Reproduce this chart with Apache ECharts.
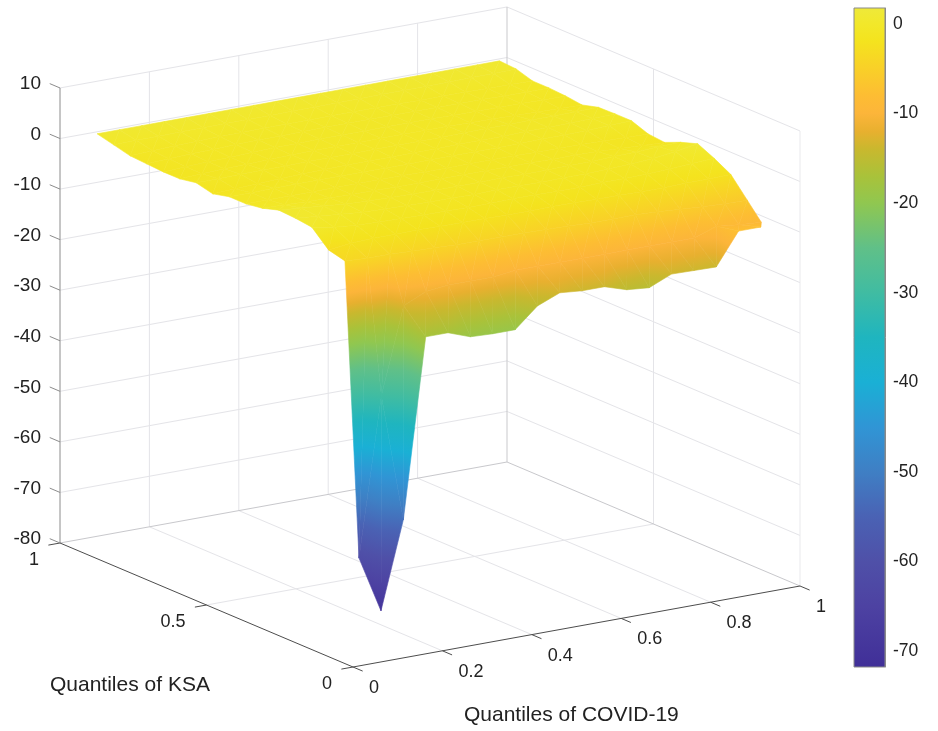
<!DOCTYPE html>
<html><head><meta charset="utf-8">
<style>html,body{margin:0;padding:0;background:#fff}#c{width:938px;height:731px}</style>
<script src="https://cdn.jsdelivr.net/npm/echarts@6/dist/echarts.min.js"></script>
</head><body><div id="c"></div>
<script>
// Surface values
const covidQuantiles = [0.0626,0.1126,0.1626,0.2126,0.2626,0.3126,0.3626,0.4126,0.4626,0.5126,0.5626,0.6126,0.6626,0.7126,0.7626,0.8126,0.8626,0.9126,0.9626];
const ksaQuantiles = [0,0.075,0.123,0.179,0.236,0.292,0.349,0.405,0.461,0.518,0.574,0.631,0.687,0.743,0.8,0.856,0.912,0.969];
const effectByKsaRow = [
 [-69.9,-52.7,-17.3,-17.3,-18.9,-19.1,-19.1,-15.2,-13.4,-13.8,-13.8,-15.2,-15.6,-13.7,-13.8,-13.9,-7.6,-7.6,null],
 [-61.3,-30,-13,-11,-10.5,-10.5,-10.5,-10,-10,-10,-10,-10,-10,-10,-10,-10,-8.5,-9,-9.3],
 [-3.7,-4,-4,-4.2,-4.3,-4.5,-4.5,-4.6,-4.6,-4.7,-4.8,-5,-5,-5,-5.2,-5.5,-5.8,-6,-6.1],
 [-2.9,-2.4,-2.2,-2.2,-2.1,-2.2,-2.3,-2.3,-2.4,-2.4,-2.3,-2.4,-2.5,-2.5,-2.6,-2.6,-2.5,-2.5,-2.4],
 [0.2,-0.6,-1,-1.2,-1.3,-1.4,-1.4,-1.5,-1.5,-1.4,-1.4,-1.5,-1.5,-1.4,-1.4,-1.3,-1.1,-0.8,-0.6],
 [0.6,0.2,-0.2,-0.6,-0.8,-0.9,-1,-1,-1.1,-1,-1,-1.1,-1,-1,-0.9,-0.7,-0.4,0.2,0.9],
 [0.8,0.4,0,-0.4,-0.6,-0.7,-0.8,-0.9,-0.9,-0.9,-0.8,-0.9,-0.9,-0.8,-0.8,-0.6,-0.5,-0.3,-0.2],
 [-0.2,-0.3,-0.5,-0.6,-0.7,-0.7,-0.8,-0.8,-0.8,-0.8,-0.8,-0.8,-0.8,-0.9,-0.9,-1,-1.2,-1.4,-1.6],
 [-0.7,-0.7,-0.7,-0.7,-0.7,-0.7,-0.7,-0.7,-0.8,-0.8,-0.8,-0.8,-0.8,-0.9,-0.9,-1,-1.1,-1.2,-1.3],
 [-0.7,-0.7,-0.6,-0.6,-0.6,-0.6,-0.6,-0.6,-0.7,-0.6,-0.6,-0.6,-0.6,-0.6,-0.5,-0.5,-0.4,-0.2,-0.1],
 [-1.5,-1.3,-1.1,-0.9,-0.8,-0.7,-0.6,-0.6,-0.6,-0.6,-0.6,-0.5,-0.5,-0.5,-0.4,-0.4,-0.3,-0.2,-0.1],
 [-0.7,-0.7,-0.6,-0.6,-0.6,-0.5,-0.5,-0.5,-0.5,-0.5,-0.5,-0.5,-0.4,-0.4,-0.4,-0.3,-0.3,-0.3,-0.2],
 [-1.3,-1.1,-0.9,-0.8,-0.7,-0.6,-0.5,-0.5,-0.5,-0.5,-0.5,-0.5,-0.5,-0.6,-0.7,-0.8,-0.9,-1,-1.1],
 [-1.3,-1.1,-0.9,-0.8,-0.6,-0.5,-0.5,-0.4,-0.4,-0.4,-0.4,-0.4,-0.4,-0.5,-0.5,-0.6,-0.6,-0.7,-0.7],
 [-1.1,-0.9,-0.7,-0.6,-0.5,-0.4,-0.4,-0.3,-0.3,-0.3,-0.3,-0.3,-0.3,-0.4,-0.4,-0.4,-0.5,-0.5,-0.5],
 [-0.9,-0.7,-0.5,-0.4,-0.3,-0.3,-0.2,-0.2,-0.2,-0.2,-0.2,-0.2,-0.2,-0.3,-0.3,-0.3,-0.4,-0.4,-0.5],
 [-0.1,0,0,0.1,0.1,0.1,0.1,0.1,0.2,0.2,0.2,0.2,0.3,0.3,0.3,0.3,0.4,0.4,0.5],
 [0.7,0.7,0.7,0.7,0.7,0.7,0.7,0.7,0.7,0.7,0.7,0.7,0.7,0.7,0.7,0.7,0.7,0.7,0.7]
];
// Axis ticks and labels
const covidTicks = [0,0.2,0.4,0.6,0.8,1];
const ksaTicks = [0,0.5,1];
const zTicks = [10,0,-10,-20,-30,-40,-50,-60,-70,-80];
const colorTicks = [0,-10,-20,-30,-40,-50,-60,-70];
const colorRange = [-71.8,1.8];
// colour map stops (value, colour)
const mapValues = [-71.8,-65,-60,-55,-50,-45,-40,-35,-30,-25,-20,-17,-14,-12,-10,-8,-5,-2,0,1.8];
const mapColors = ['#402f98','#4d42a2','#4f50a8','#4a62b4','#3f7fc4','#3095d5','#1ab0d5','#1fb5bf','#40bca2','#60c088','#90c750','#a9c23a','#c9b82e','#e8b02f','#fcb53a','#fdbd33','#f9d028','#f4e31e','#f2e82a','#eee93a'];

const FONT = '"Liberation Sans", Arial, sans-serif';
const TEXT = '#222222';
const rgb = c => [1,3,5].map(i => parseInt(c.substr(i,2),16));
const colorOf = v => {
  v = Math.max(mapValues[0], Math.min(mapValues[mapValues.length-1], v));
  for (let i = 1; i < mapValues.length; i++) if (v <= mapValues[i]) {
    const t = (v-mapValues[i-1])/(mapValues[i]-mapValues[i-1]);
    const a = rgb(mapColors[i-1]), b = rgb(mapColors[i]);
    return 'rgb('+a.map((q,j)=>Math.round(q+(b[j]-q)*t)).join(',')+')';
  }
  return mapColors[mapColors.length-1];
};
// MATLAB-style orthographic view expressed in the plane of the page
const project = (x,y,z) => [353+447*x-293*y, 667-81*x-124*y-(z+80)*5.056];

// triangles, far to near
const triangles = [];
for (let j = ksaQuantiles.length-2; j >= 0; j--) {
  for (let k = covidQuantiles.length-2; k >= 0; k--) {
    const v = (r,c) => { const z = effectByKsaRow[r][c]; return z==null?null:[covidQuantiles[c],ksaQuantiles[r],z]; };
    const a=v(j,k), b=v(j,k+1), c=v(j+1,k+1), d=v(j+1,k);
    if (b && c) triangles.push([...a,...b,...c]);
    triangles.push([...a,...c,...d]);
  }
}
const gradientFor = (pts, zs) => {
  const [p0,p1,p2]=pts;
  const ux=p1[0]-p0[0],uy=p1[1]-p0[1],vx=p2[0]-p0[0],vy=p2[1]-p0[1];
  const du=zs[1]-zs[0],dv=zs[2]-zs[0];
  const det=ux*vy-uy*vx;
  const lo=Math.min(...zs),hi=Math.max(...zs);
  if (Math.abs(det)<1e-6 || hi-lo<1e-6) return colorOf((lo+hi)/2);
  const gx=(du*vy-dv*uy)/det, gy=(dv*ux-du*vx)/det, g2=gx*gx+gy*gy;
  const at=z=>[p0[0]+(z-zs[0])*gx/g2,p0[1]+(z-zs[0])*gy/g2];
  const A=at(lo),B=at(hi);
  const stops=[{offset:0,color:colorOf(lo)}];
  mapValues.forEach(m=>{ if(m>lo&&m<hi) stops.push({offset:(m-lo)/(hi-lo),color:colorOf(m)}); });
  stops.push({offset:1,color:colorOf(hi)});
  return new echarts.graphic.LinearGradient(A[0],A[1],B[0],B[1],stops,true);
};

// box: walls, floor, axes
const GRID='#e4e4e8', EDGE='#c9c9cc', AXIS='#4d4d4d', ZAX='#8c8c8c';
const seg=[]; // x1,y1,z1,x2,y2,z2,colour
const add=(a,b,c)=>seg.push([...a,...b,c]);
zTicks.slice(0,9).forEach(z=>{ add([0,1,z],[1,1,z],GRID); add([1,1,z],[1,0,z],GRID); });
covidTicks.slice(1,5).forEach(x=>{ add([x,1,-80],[x,1,10],GRID); add([x,0,-80],[x,1,-80],GRID); });
add([0,0.5,-80],[1,0.5,-80],GRID); add([1,0.5,-80],[1,0.5,10],GRID);
add([1,0,-80],[1,0,10],'#e9e9ec');
add([1,1,-80],[1,1,10],EDGE);
add([0,1,-80],[1,1,-80],'#c8c8cc'); add([1,1,-80],[1,0,-80],'#c8c8cc');
add([0,1,-80],[0,1,10],ZAX);
add([0,0,-80],[1,0,-80],AXIS); add([0,0,-80],[0,1,-80],AXIS);
covidTicks.forEach(x=>add([x,0,-80],[x,-0.033,-80],AXIS));
ksaTicks.forEach(y=>add([0,y,-80],[-0.026,y,-80],AXIS));
zTicks.forEach(z=>add([0,1,z],[0,1.035,z],ZAX));

const labels=[];
covidTicks.forEach(x=>labels.push([x,0,-80,String(x),'left',16,21,18]));
ksaTicks.forEach(y=>labels.push([0,y,-80,String(y),'right',-21,17,18]));
zTicks.forEach(z=>labels.push([0,1,z,String(z),'right',-19,-4,19]));

const option={
  animation:false,
  backgroundColor:'#fff',
  grid:[
    {left:0,top:0,width:938,height:731,show:false},
    {left:854,top:8,width:31,height:659,show:false}
  ],
  xAxis:[
    {gridIndex:0,type:'value',min:0,max:938,show:false},
    {gridIndex:1,type:'value',min:0,max:1,show:false}
  ],
  yAxis:[
    {gridIndex:0,type:'value',min:0,max:731,inverse:true,show:false},
    {gridIndex:1,type:'value',position:'right',min:colorRange[0],max:colorRange[1],
     axisLine:{show:true,onZero:false,lineStyle:{color:'#8a8a8a',width:1}},
     axisTick:{show:true,inside:true,length:7,customValues:colorTicks,lineStyle:{color:'rgba(60,60,60,0.55)'}},
     axisLabel:{show:true,customValues:colorTicks,margin:8,fontFamily:FONT,fontSize:17.5,color:TEXT,formatter:v=>String(v)},
     splitLine:{show:false}}
  ],
  graphic:[
    {type:'text',left:50,top:675,style:{text:'Quantiles of KSA',font:'21px '+FONT,fill:TEXT}},
    {type:'text',left:464,top:705,style:{text:'Quantiles of COVID-19',font:'21px '+FONT,fill:TEXT}}
  ],
  series:[
    {type:'custom',name:'box',coordinateSystem:'cartesian2d',xAxisIndex:0,yAxisIndex:0,silent:true,z:1,clip:false,
     data:seg,encode:{x:[],y:[]},
     renderItem:(p,api)=>{
       const d=seg[p.dataIndex];
       const a=api.coord(project(d[0],d[1],d[2])),b=api.coord(project(d[3],d[4],d[5]));
       return {type:'line',shape:{x1:a[0],y1:a[1],x2:b[0],y2:b[1]},style:{stroke:d[6],lineWidth:1,fill:null}};
     }},
    {type:'custom',name:'surface',coordinateSystem:'cartesian2d',xAxisIndex:0,yAxisIndex:0,silent:true,z:2,clip:false,
     data:triangles,encode:{x:[],y:[]},
     renderItem:(p,api)=>{
       const t=triangles[p.dataIndex];
       const pts=[0,3,6].map(i=>api.coord(project(t[i],t[i+1],t[i+2])));
       const g=gradientFor(pts,[t[2],t[5],t[8]]);
       return {type:'polygon',shape:{points:pts},style:{fill:g,stroke:g,lineWidth:0.6,lineJoin:'round'}};
     }},
    {type:'custom',name:'tick labels',coordinateSystem:'cartesian2d',xAxisIndex:0,yAxisIndex:0,silent:true,z:3,clip:false,
     data:labels,encode:{x:[],y:[]},
     renderItem:(p,api)=>{
       const l=labels[p.dataIndex];
       const a=api.coord(project(l[0],l[1],l[2]));
       return {type:'text',style:{text:l[3],x:a[0]+l[5],y:a[1]+l[6],align:l[4],verticalAlign:'middle',font:l[7]+'px '+FONT,fill:TEXT}};
     }},
    {type:'custom',name:'colorbar',coordinateSystem:'cartesian2d',xAxisIndex:1,yAxisIndex:1,silent:true,z:1,
     data:[[0,colorRange[0]],[1,colorRange[1]]],encode:{x:0,y:1},
     renderItem:(p,api)=>{
       if(p.dataIndex) return null;
       const a=api.coord([0,colorRange[1]]),b=api.coord([1,colorRange[0]]);
       const stops=mapValues.map((m,i)=>({offset:(colorRange[1]-m)/(colorRange[1]-colorRange[0]),color:mapColors[i]})).reverse();
       return {type:'rect',shape:{x:a[0],y:a[1],width:b[0]-a[0],height:b[1]-a[1]},
         style:{fill:new echarts.graphic.LinearGradient(0,0,0,1,stops),stroke:'#8a8a8a',lineWidth:1}};
     }}
  ]
};
const chart=echarts.init(document.getElementById('c'),null,{renderer:'canvas'});
chart.setOption(option);
</script></body></html>
